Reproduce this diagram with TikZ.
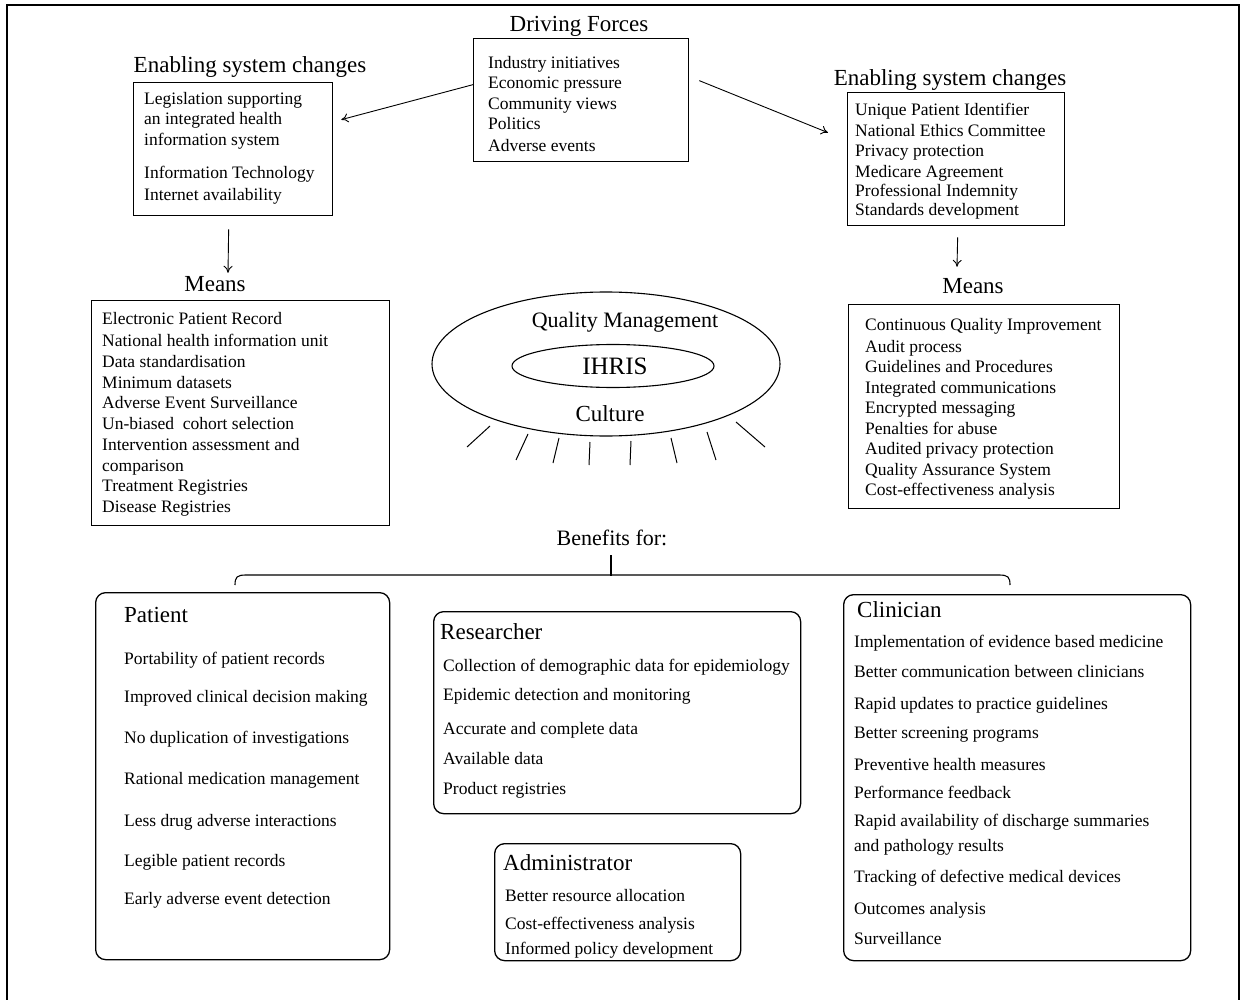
\documentclass[tikz,border=0pt]{standalone}
\usepackage{fontspec}
\setmainfont{Liberation Serif}
\usetikzlibrary{arrows.meta,shapes.geometric}
\begin{document}
\begin{tikzpicture}[x=1pt,y=-1pt,
  box/.style={draw, line width=1.3pt, inner sep=0pt, anchor=north west},
  rbox/.style={box, rounded corners=10pt},
  item/.style={font=\fontsize{17.5}{20}\selectfont, inner sep=0pt, anchor=west, text height=12pt, text depth=4pt, yshift=-2.5pt},
  head/.style={font=\fontsize{23}{26}\selectfont, inner sep=0pt, text height=16pt, text depth=5pt, yshift=-2.5pt},
  ttl/.style={head, anchor=west},
  arr/.style={-{To[length=7pt,width=9pt]}, line width=0.9pt},
  ray/.style={line width=1pt}
]
\useasboundingbox (0,0) rectangle (1242,1000);
% outer frame
\draw[line width=2pt] (7,1002) -- (7,5) -- (1239,5) -- (1239,1002);

% ---------- Driving forces ----------
\node[head] (drvt) at (579,24) {Driving Forces};
\node[box, minimum width=215pt, minimum height=123pt] (drv) at (473,38) {};
\foreach \t/\y [count=\i] in {Industry initiatives/62, Economic pressure/82, Community views/103, Politics/123, Adverse events/145}
  \node[item] (drv\i) at (488,\y) {\t};

% ---------- Left enabling ----------
\node[head] (eslt) at (250,65) {Enabling system changes};
\node[box, minimum width=199pt, minimum height=133pt] (esl) at (133,82) {};
\foreach \t/\y [count=\i] in {Legislation supporting/98, an integrated health/118, information system/139, Information Technology/172, Internet availability/194}
  \node[item] (esl\i) at (144,\y) {\t};

% ---------- Right enabling ----------
\node[head] (esrt) at (950,78) {Enabling system changes};
\node[box, minimum width=217pt, minimum height=133pt] (esr) at (847,92) {};
\foreach \t/\y [count=\i] in {Unique Patient Identifier/109, National Ethics Committee/130, Privacy protection/150, Medicare Agreement/171, Professional Indemnity/190, Standards development/209}
  \node[item] (esr\i) at (855,\y) {\t};

% arrows from driving forces
\draw[arr] ([yshift=15.5pt]drv.west) -- ([xshift=8pt,yshift=29.5pt]esl.east);
\draw[arr] ([xshift=10pt,yshift=19.5pt]drv.east) -- ([xshift=-19pt,yshift=26.5pt]esr.west);

% ---------- Left means ----------
\node[head] (mnlt) at (215,284) {Means};
\node[box, minimum width=298pt, minimum height=225pt] (mnl) at (91,300) {};
\foreach \t/\y [count=\i] in {Electronic Patient Record/318, National health information unit/340, Data standardisation/361, Minimum datasets/382, Adverse Event Surveillance/402, Un-biased\ \ cohort selection/423, Intervention assessment and/444, comparison/465, Treatment Registries/485, Disease Registries/506}
  \node[item] (mnl\i) at (102,\y) {\t};

% ---------- Right means ----------
\node[head] (mnrt) at (973,286) {Means};
\node[box, minimum width=271pt, minimum height=204pt] (mnr) at (848,304) {};
\foreach \t/\y [count=\i] in {Continuous Quality Improvement/324, Audit process/346, Guidelines and Procedures/366, Integrated communications/387, Encrypted messaging/407, Penalties for abuse/428, Audited privacy protection/448, Quality Assurance System/469, Cost-effectiveness analysis/489}
  \node[item] (mnr\i) at (865,\y) {\t};

% down arrows
\draw[arr] ([xshift=-4.5pt,yshift=-13pt]esl.south) -- ([xshift=13pt,yshift=3pt]mnlt.north);
\draw[arr] ([xshift=1.5pt,yshift=-11pt]esr.south) -- ([xshift=-16pt,yshift=11pt]mnrt.north);

% ---------- Ellipses ----------
\node[draw, ellipse, line width=1.1pt, minimum width=348pt, minimum height=144pt, inner sep=0pt] (outer) at (606,364) {};
\node[draw, ellipse, line width=1.1pt, minimum width=202pt, minimum height=43pt, inner sep=0pt] (inner) at (613,366) {};
\node[head, font=\fontsize{22}{25}\selectfont] (qm) at (625,319) {Quality Management};
\node[head, font=\fontsize{25}{28}\selectfont] (ihris) at (615,366) {IHRIS};
\node[head] (cult) at (610,413) {Culture};
\draw[ray] (490,426) -- (467,447);
\draw[ray] (528,434) -- (516,460);
\draw[ray] (559,438) -- (553,463);
\draw[ray] (590,442) -- (589,465);
\draw[ray] (631,441) -- (630,465);
\draw[ray] (671,438) -- (677,463);
\draw[ray] (707,432) -- (716,460);
\draw[ray] (736,422) -- (765,447);

% ---------- Benefits ----------
\node[head, font=\fontsize{22}{25}\selectfont] (ben) at (612,537) {Benefits for:};
\draw[line width=1.1pt] (235,585) .. controls (235,577) and (237,575) .. (246,575) -- (999,575) .. controls (1008,575) and (1010,577) .. (1010,585);
\draw[line width=1.1pt] ([xshift=-1pt,yshift=-5pt]ben.south) -- ++(0,21);

% ---------- Patient ----------
\node[rbox, minimum width=294pt, minimum height=367pt] (pat) at (95,592) {};
\node[ttl] (patt) at (124,614) {Patient};
\foreach \t/\y [count=\i] in {Portability of patient records/658, Improved clinical decision making/696, No duplication of investigations/737, Rational medication management/778, Less drug adverse interactions/820, Legible patient records/860, Early adverse event detection/898}
  \node[item] (pat\i) at (124,\y) {\t};

% ---------- Researcher ----------
\node[rbox, minimum width=367pt, minimum height=202pt] (res) at (433,611) {};
\node[ttl] (rest) at (440,631) {Researcher};
\foreach \t/\y [count=\i] in {Collection of demographic data for epidemiology/665, Epidemic detection and monitoring/694, Accurate and complete data/728, Available data/758, Product registries/788}
  \node[item] (res\i) at (443,\y) {\t};

% ---------- Administrator ----------
\node[rbox, minimum width=246pt, minimum height=117pt] (adm) at (494,843) {};
\node[ttl] (admt) at (503,862) {Administrator};
\foreach \t/\y [count=\i] in {Better resource allocation/895, Cost-effectiveness analysis/923, Informed policy development/948}
  \node[item] (adm\i) at (505,\y) {\t};

% ---------- Clinician ----------
\node[rbox, minimum width=347pt, minimum height=366pt] (cli) at (843,594) {};
\node[ttl] (clit) at (857,609) {Clinician};
\foreach \t/\y [count=\i] in {Implementation of evidence based medicine/641, Better communication between clinicians/671, Rapid updates to practice guidelines/703, Better screening programs/732, Preventive health measures/764, Performance feedback/792, Rapid availability of discharge summaries/820, and pathology results/845, Tracking of defective medical devices/876, Outcomes analysis/908, Surveillance/938}
  \node[item] (cli\i) at (854,\y) {\t};

\end{tikzpicture}
\end{document}
